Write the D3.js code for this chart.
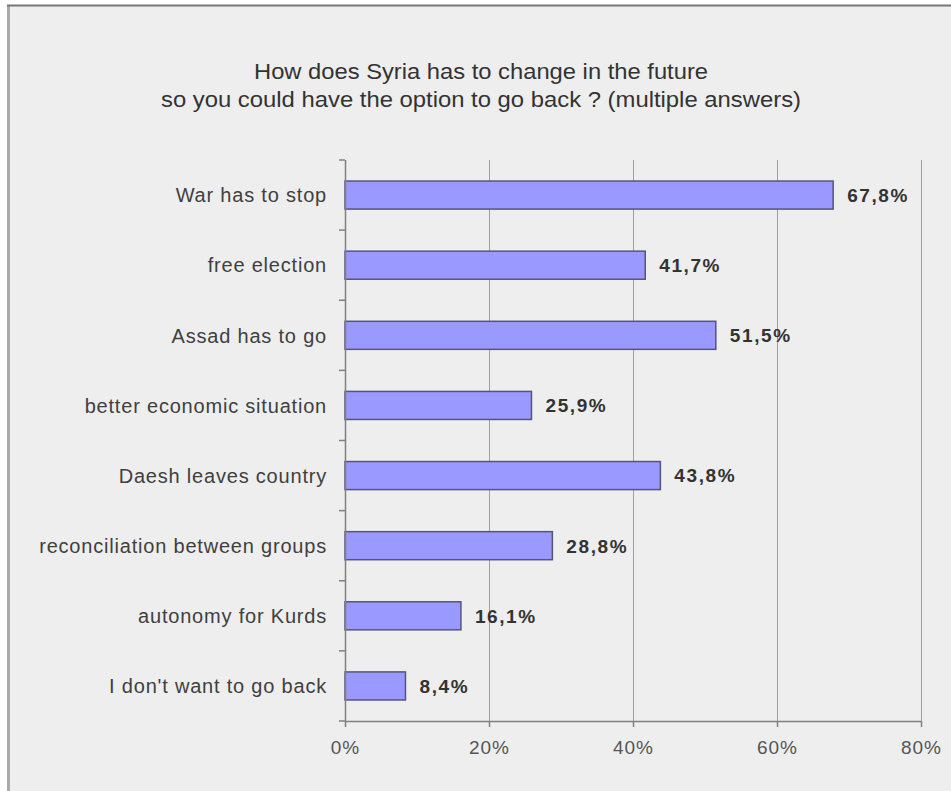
<!DOCTYPE html>
<html lang="en">
<head>
  <meta charset="UTF-8">
  <title>Syria survey</title>
  <style>
  body { margin: 0; background: #fff; }
  svg { display: block; }
  text { font-family: "Liberation Sans", Arial, sans-serif; }
  .cat { font-size: 20px; fill: #404040; letter-spacing: 0.8px; }
  .val { font-size: 19px; font-weight: bold; fill: #333; letter-spacing: 1.6px; }
  .tick-lbl { font-size: 19px; fill: #555; letter-spacing: 1px; }
  .title { font-size: 22px; fill: #333; }
  </style>
</head>
<body>
  <script src="https://d3js.org/d3.v7.min.js"></script>
  <script>
const categories = [
  "War has to stop",
  "free election",
  "Assad has to go",
  "better economic situation",
  "Daesh leaves country",
  "reconciliation between groups",
  "autonomy for Kurds",
  "I don't want to go back"
]
const values = [67.8, 41.7, 51.5, 25.9, 43.8, 28.8, 16.1, 8.4]
const xTicks = [0, 20, 40, 60, 80]
const titleLines = [
  "How does Syria has to change in the future",
  "so you could have the option to go back ? (multiple answers)"
]

const width = 951, height = 791
const margin = {top: 160, right: 30, bottom: 70, left: 345}
const plotRight = 921, plotBottom = 721

const svg = d3.select("body").append("svg")
  .attr("width", width)
  .attr("height", height)

// chart frame
svg.append("rect")
  .attr("x", 8).attr("y", 5)
  .attr("width", width).attr("height", height)
  .attr("fill", "#eeeeee")
svg.append("line")
  .attr("x1", 8.5).attr("x2", 8.5).attr("y1", 5).attr("y2", height)
  .attr("stroke", "#aaa").attr("stroke-width", 3)
svg.append("line")
  .attr("x1", 7).attr("x2", width).attr("y1", 5.5).attr("y2", 5.5)
  .attr("stroke", "#777").attr("stroke-width", 2)

// title
svg.append("g").selectAll("text")
  .data(titleLines)
  .enter().append("text")
    .attr("class", "title")
    .attr("x", 481)
    .attr("y", (d, i) => 79 + i * 28)
    .attr("text-anchor", "middle")
    .attr("textLength", (d, i) => i === 0 ? 454 : 640)
    .attr("lengthAdjust", "spacingAndGlyphs")
    .text(d => d)

const x = d3.scaleLinear()
  .domain([0, 80])
  .range([margin.left, plotRight])

const y = d3.scaleBand()
  .domain(categories)
  .range([margin.top, plotBottom])
  .paddingInner(0.6)
  .paddingOuter(0.3)

// gridlines
svg.append("g").selectAll("line")
  .data(xTicks.slice(1))
  .enter().append("line")
    .attr("x1", d => x(d) + 0.5).attr("x2", d => x(d) + 0.5)
    .attr("y1", margin.top).attr("y2", plotBottom)
    .attr("stroke", "#a0a0a0").attr("stroke-width", 1)

// bars
svg.append("g").selectAll("rect")
  .data(values)
  .enter().append("rect")
    .attr("x", x(0))
    .attr("y", (d, i) => y(categories[i]))
    .attr("width", d => x(d) - x(0))
    .attr("height", y.bandwidth())
    .attr("fill", "#9999ff")
    .attr("stroke", "#55557a")
    .attr("stroke-width", 1.5)

// value labels
svg.append("g").selectAll("text")
  .data(values)
  .enter().append("text")
    .attr("class", "val")
    .attr("x", d => x(d) + 14)
    .attr("y", (d, i) => y(categories[i]) + y.bandwidth() / 2)
    .attr("dy", "0.36em")
    .text(d => d.toFixed(1).replace(".", ",") + "%")

// y axis with ticks at band boundaries
const bounds = categories.map(c => y(c) + y.bandwidth() / 2 - y.step() / 2)
bounds.push(plotBottom)
const yAxis = svg.append("g")
yAxis.append("line")
  .attr("x1", x(0) + 0.5).attr("x2", x(0) + 0.5)
  .attr("y1", margin.top).attr("y2", plotBottom)
  .attr("stroke", "#808080").attr("stroke-width", 1.5)
yAxis.selectAll(".yt")
  .data(bounds)
  .enter().append("line")
    .attr("class", "yt")
    .attr("x1", x(0) - 6).attr("x2", x(0))
    .attr("y1", d => d).attr("y2", d => d)
    .attr("stroke", "#808080").attr("stroke-width", 1.5)
yAxis.selectAll(".cat")
  .data(categories)
  .enter().append("text")
    .attr("class", "cat")
    .attr("x", x(0) - 18)
    .attr("y", d => y(d) + y.bandwidth() / 2)
    .attr("dy", "0.36em")
    .attr("text-anchor", "end")
    .text(d => d)

// x axis
const xAxis = svg.append("g")
  .attr("transform", `translate(0,${plotBottom})`)
  .call(d3.axisBottom(x).tickValues(xTicks).tickSize(6).tickSizeOuter(0).tickFormat(d => d + "%"))
xAxis.select(".domain").attr("stroke", "#808080").attr("stroke-width", 1.5)
xAxis.selectAll(".tick line").attr("stroke", "#808080").attr("stroke-width", 1.5)
xAxis.selectAll(".tick text")
  .attr("class", "tick-lbl")
  .attr("font-family", null).attr("font-size", null)
  .attr("fill", null)
  .attr("y", 20)
  </script>
</body>
</html>
